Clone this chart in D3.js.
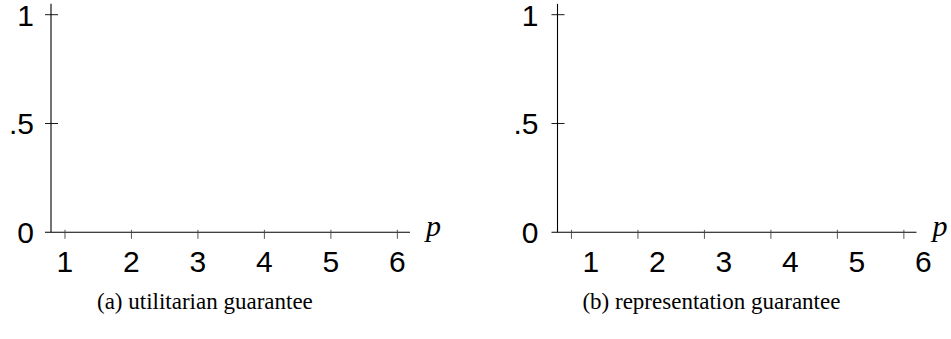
<!DOCTYPE html>
<html>
<head>
<meta charset="utf-8">
<script src="https://cdn.jsdelivr.net/npm/d3@7"></script>
<style>
  body { margin: 0; background: #fff; }
  svg { display: block; }
</style>
</head>
<body>
<svg id="canvas"></svg>
<script>
// tick values / labels
const xTicks = [1, 2, 3, 4, 5, 6];
const yTicks = [0, 0.5, 1];
const yTickLabels = ['0', '.5', '1'];
const captions = ['(a) utilitarian guarantee', '(b) representation guarantee'];
const xAxisName = 'p';

const w = 951;
const h = 339;

// each panel: where its y axis sits and how far labels are nudged
const panels = [
  { left: 51, labelShift: 0, yLabelGap: 17 },
  { left: 557.5, labelShift: 19.5, yLabelGap: 19 }
];

const svg = d3.select('#canvas').attr('width', w).attr('height', h);

const yScale = d3.scaleLinear().domain([0, 1]).range([232.3, 14.7]);

panels.forEach((p, i) => {
  const xScale = d3.scaleLinear().domain([0.79, 6.19]).range([p.left, p.left + 359]);
  const y0 = yScale(0);
  const g = svg.append('g');

  // y axis line
  g.append('line')
    .attr('x1', xScale(0.79)).attr('x2', xScale(0.79))
    .attr('y1', y0).attr('y2', yScale(1.05))
    .attr('stroke', '#000').attr('stroke-width', 1.1);

  // x axis line
  g.append('line')
    .attr('x1', xScale(0.79) - 6).attr('x2', xScale(6.19))
    .attr('y1', y0).attr('y2', y0)
    .attr('stroke', '#000').attr('stroke-width', 1.1);

  // y ticks (cross the axis)
  g.selectAll('.ytick')
    .data(yTicks.filter((d) => d > 0))
    .enter()
    .append('line')
    .attr('class', 'ytick')
    .attr('x1', xScale(0.79) - 6).attr('x2', xScale(0.79) + 7)
    .attr('y1', (d) => yScale(d)).attr('y2', (d) => yScale(d))
    .attr('stroke', '#000').attr('stroke-width', 0.9);

  g.selectAll('.ylab')
    .data(yTicks)
    .enter()
    .append('text')
    .attr('class', 'ylab')
    .attr('x', xScale(0.79) - p.yLabelGap)
    .attr('y', (d) => yScale(d))
    .attr('dy', '0.36em')
    .attr('text-anchor', 'end')
    .attr('font-family', 'Liberation Sans, Arial, sans-serif')
    .attr('font-size', 30)
    .text((d, k) => yTickLabels[k]);

  // x ticks
  g.selectAll('.xtick')
    .data(xTicks)
    .enter()
    .append('line')
    .attr('class', 'xtick')
    .attr('x1', (d) => xScale(d)).attr('x2', (d) => xScale(d))
    .attr('y1', y0 - 2.5).attr('y2', y0 + 6.5)
    .attr('stroke', '#444').attr('stroke-width', 0.9);

  g.selectAll('.xlab')
    .data(xTicks)
    .enter()
    .append('text')
    .attr('class', 'xlab')
    .attr('x', (d) => xScale(d) + p.labelShift)
    .attr('y', 271.5)
    .attr('text-anchor', 'middle')
    .attr('font-family', 'Liberation Sans, Arial, sans-serif')
    .attr('font-size', 30)
    .text((d) => d);

  // axis name
  g.append('text')
    .attr('x', xScale(6.19) + 16)
    .attr('y', 236)
    .attr('font-family', 'Liberation Serif, Times New Roman, serif')
    .attr('font-style', 'italic')
    .attr('font-size', 30)
    .text(xAxisName);

  // caption
  g.append('text')
    .attr('x', xScale(3.0) + 7)
    .attr('y', 309)
    .attr('text-anchor', 'middle')
    .attr('font-family', 'Liberation Serif, Times New Roman, serif')
    .attr('font-size', 23)
    .text(captions[i]);
});
</script>
</body>
</html>
